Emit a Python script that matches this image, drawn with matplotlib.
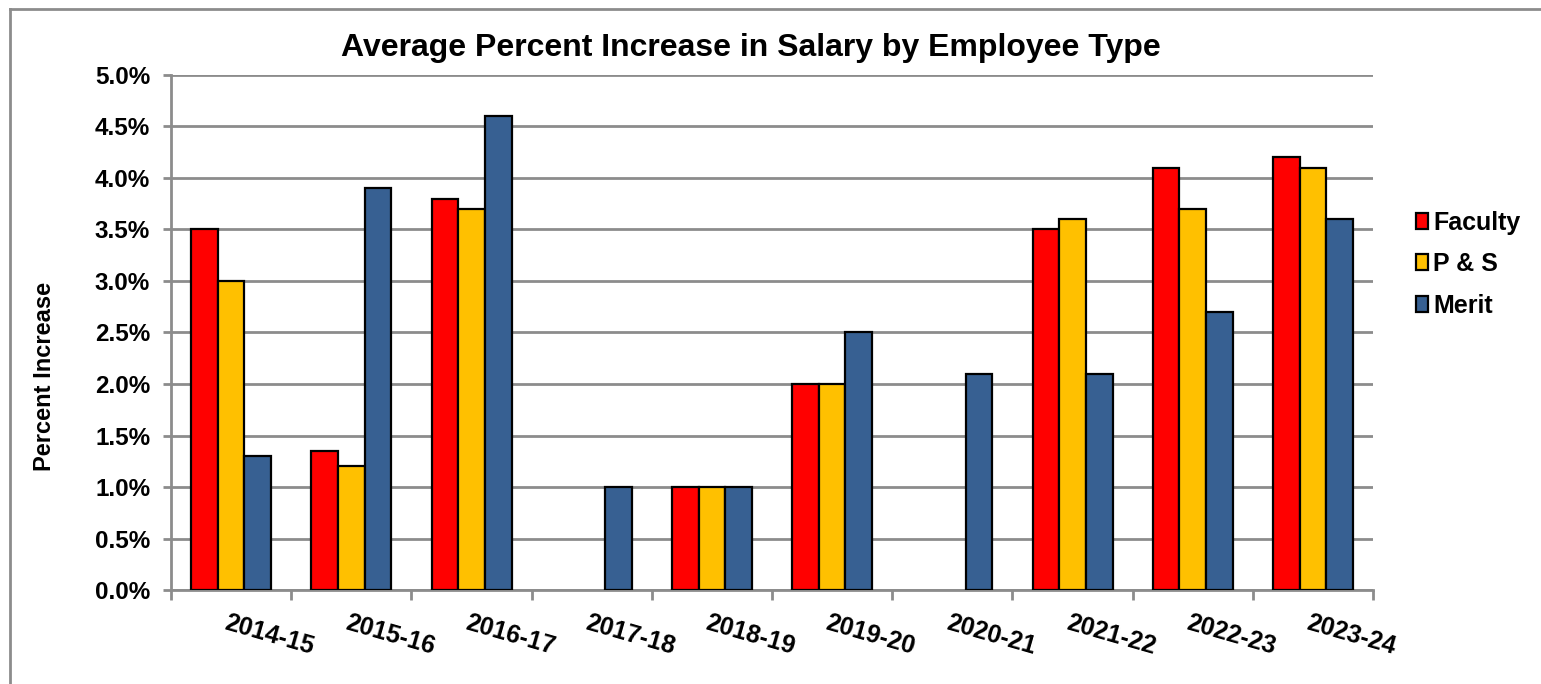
import numpy as np
import matplotlib.pyplot as plt
from matplotlib.patches import Patch
from matplotlib.ticker import FuncFormatter

plt.rcParams['font.family'] = ['Liberation Sans', 'DejaVu Sans']

# data (percent), nan = no bar
years = ['2014-15', '2015-16', '2016-17', '2017-18', '2018-19',
         '2019-20', '2020-21', '2021-22', '2022-23', '2023-24']
faculty = [3.5, 1.35, 3.8, np.nan, 1.0, 2.0, np.nan, 3.5, 4.1, 4.2]
p_and_s = [3.0, 1.2, 3.7, np.nan, 1.0, 2.0, np.nan, 3.6, 3.7, 4.1]
merit = [1.3, 3.9, 4.6, 1.0, 1.0, 2.5, 2.1, 2.1, 2.7, 3.6]

series = [('Faculty', faculty, '#FF0000'),
          ('P & S', p_and_s, '#FFC000'),
          ('Merit', merit, '#376092')]

fig = plt.figure(figsize=(15.41, 6.84), dpi=100)
ax = fig.add_axes([0.111, 0.1374, 0.78, 0.753])

# outer frame of the chart area
fig.add_artist(plt.Line2D([0.0065, 1.0], [0.987, 0.987], color='#8c8c8c', lw=2))
fig.add_artist(plt.Line2D([0.0065, 0.0065], [0.0, 0.987], color='#8c8c8c', lw=2))

x = np.arange(len(years))
w = 0.222
for i, (name, vals, col) in enumerate(series):
    ax.bar(x + (i - 1) * w, vals, w, color=col, edgecolor='black', lw=1.6,
           zorder=3, label=name)

ax.set_xlim(-0.5, len(years) - 0.5)
ax.set_ylim(0, 5.0)
ax.set_yticks(np.arange(0, 5.01, 0.5))
ax.yaxis.set_major_formatter(FuncFormatter(lambda v, p: '%.1f%%' % v))
ax.grid(axis='y', color='#8c8c8c', lw=2, zorder=0)

for s in ['top', 'right']:
    ax.spines[s].set_visible(False)
for s in ['left', 'bottom']:
    ax.spines[s].set_color('#8c8c8c')
    ax.spines[s].set_linewidth(2)

ax.tick_params(axis='y', length=6, width=2, color='#8c8c8c', pad=9,
               labelsize=17.5)
for t in ax.get_yticklabels():
    t.set_fontweight('bold')

# ticks at category boundaries, labels drawn as rotated text
ax.set_xticks(np.arange(len(years) + 1) - 0.5)
ax.set_xticklabels([])
ax.tick_params(axis='x', length=7, width=2, color='#8c8c8c')
for xi, lab in zip(x, years):
    ax.text(xi - 0.02, -0.2, lab, rotation=-16, rotation_mode='anchor',
            ha='left', va='top', fontsize=18, fontweight='bold',
            transform=ax.transData, clip_on=False)

ax.set_ylabel('Percent Increase', fontsize=17, fontweight='bold')
ax.yaxis.set_label_coords(-0.096, 0.415)
fig.text(0.487, 0.93, 'Average Percent Increase in Salary by Employee Type',
         ha='center', va='center', fontsize=23, fontweight='bold')

handles = [Patch(facecolor=c, edgecolor='black', lw=1.6) for _, _, c in series]
leg = fig.legend(handles, [n for n, _, _ in series], loc='center left',
                 bbox_to_anchor=(0.904, 0.614), frameon=False,
                 prop={'size': 18, 'weight': 'bold'}, handlelength=0.5,
                 handleheight=0.6, handletextpad=0.2, labelspacing=0.7)

fig.savefig('out.png', dpi=100)
